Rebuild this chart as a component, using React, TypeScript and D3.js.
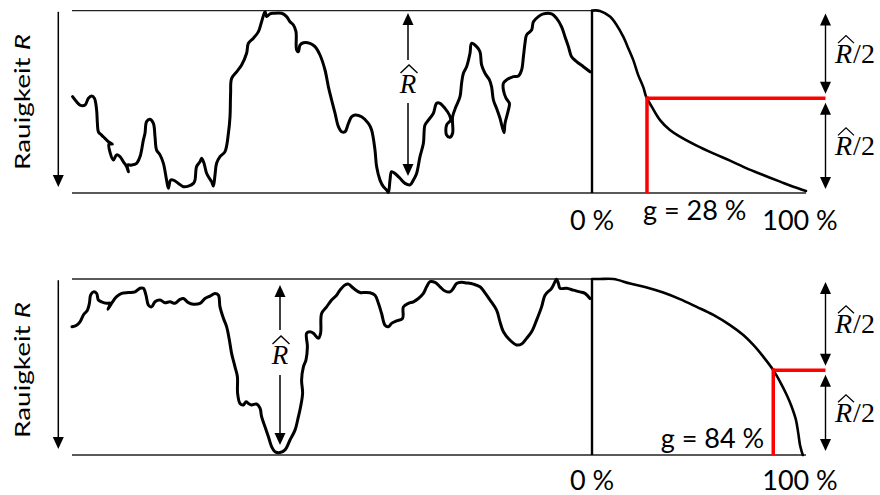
import React from 'react';
import * as d3 from 'd3';

// ---- data (profile position in µm, height in µm; Abbott curve: material ratio %, height) ----
const profileTop: [number, number][] = [
  [0.3,32.1],[2.3,30.4],[4,29.3],[6.5,29.3],[8.2,31.6],[9.8,32.3],[11.2,31.6],[12.3,27.7],[12.7,23.2],[13.2,20.4],[14.8,19.3],[16.5,18.2],[18.2,17.1],[20.2,16.3],[18.5,16.3],[20.7,11],[22.3,12.7],[24,12.1],[25.7,10.4],[27.3,8.8],[28.2,7.1],[27.7,9.3],[29.8,9.3],[32.3,9.9],[34,12.1],[35.7,17.7],[36.5,19.9],[37.3,23.8],[39,24.6],[40.7,23.2],[41.5,18.8],[42.3,14.3],[44,12.7],[45.7,9.9],[47.3,4.3],[48.2,1.6],[49.3,4.3],[50.7,4.3],[53.2,3.2],[55.7,2.1],[58.2,2.3],[60.7,3.2],[61.5,4.3],[62.3,8.8],[64,10.4],[64.8,11.6],[66,9.9],[67.3,6.6],[68.7,4.9],[69.8,3.8],[70.7,2.3],[71.5,6],[72.3,9.9],[74,12.1],[76.5,13.8],[78.2,19.9],[79,25.4],[79.3,33.2],[79.8,38.2],[82.3,40.4],[84.8,42.7],[87.3,46.6],[88.2,49.9],[90.7,51.6],[93.2,53.8],[94.8,57.1],[96.5,60.4],[97.3,58.8],[99,59.7],[100.7,59.9],[104.8,59.9],[107.3,58.8],[109,57.1],[110.7,56],[112,53.8],[112.3,47.7],[113.2,47.1],[114,49.3],[115.7,50.1],[119,49.9],[121.5,48.8],[124,46],[126.5,41],[128.2,35.4],[129.8,31],[131.5,26.6],[133.2,22.1],[134.8,20.4],[136.5,20.4],[138.2,23.2],[139.8,25.4],[141.5,26],[144.8,25.4],[148.2,23.2],[149.8,21],[151.5,14.3],[152.3,8.8],[154,4.3],[155.7,2.1],[157.3,1],[158.2,0.2],[159,4.3],[159.8,7.1],[161.5,6.5],[164,4.9],[166.5,3.2],[169,2.7],[170.7,4.3],[172.3,6.5],[174,12.1],[175.7,16.6],[176.5,22.7],[178.2,24.3],[180.7,26.6],[182.3,29.9],[184,29.9],[186.5,28.2],[188.7,26],[189.3,24.3],[187.3,22.7],[187.3,19.3],[189,18.6],[190.3,19.9],[190.3,25.4],[192,28.8],[194,32.1],[194.8,36.6],[195.7,39.9],[197.3,42.1],[199,46.6],[199.8,49.9],[202.3,48.8],[204,47.1],[204.8,42.7],[206.5,39.9],[208.7,37.7],[209.8,35.4],[210.7,31],[212.3,28.2],[214,24.9],[216,20.1],[216.5,23.2],[218.2,27.7],[218.7,29.9],[217,31.6],[215.7,34.3],[215.7,36.6],[217.3,37.7],[220.7,38.8],[223.2,39],[224.8,41],[225.7,45.4],[226.5,49.9],[227.3,52.7],[229.8,54.3],[230.7,57.1],[233.2,58.8],[235.7,59.7],[239.8,59.7],[242.3,58.2],[244.8,55.4],[246.5,52.1],[248.2,48.8],[249.8,45.4],[252.3,43.8],[255.7,42.1],[259,40.4]
];

const profileBottom: [number, number][] = [
  [0,42.8],[2.3,43.3],[4,44.4],[5.7,46.7],[7.7,48.3],[8.7,50.6],[9.3,53.3],[10.7,54.4],[12.3,53.9],[13.2,51.7],[14.8,51.1],[17.3,50.6],[19,50.6],[18,48.6],[20,50.8],[22.3,52.8],[24.8,53.9],[28.2,54.2],[31.5,54.4],[34,55.6],[35.7,55.6],[37,53.3],[38.2,50],[39.8,49.4],[41.5,51.1],[44,51.7],[46.5,50.8],[49,51.1],[51.5,50.6],[54,51.9],[55.7,52.2],[58.2,50.8],[60.7,50.3],[64,50.6],[66.5,52.2],[69,53],[71.5,53.9],[73.2,53.3],[74,49.4],[75.7,45.6],[77.3,42.8],[78.7,38.3],[79.8,33.9],[81.5,29.4],[82.7,26.1],[82.8,20.6],[84,17.2],[85.7,16.7],[87,17.8],[88.2,17.2],[89.8,16.7],[92.3,17],[94,15.6],[94.8,12.8],[96.5,9.4],[98.2,6.1],[99.8,2.8],[101.5,1.1],[104,0.8],[106.5,1.7],[109,5],[111.5,8.3],[113.2,12.8],[114.3,16.1],[115.3,20.6],[114.8,25],[115.7,29.4],[117,31.7],[117.7,36.1],[117.3,40.6],[119,41.1],[120.7,40.6],[123.2,38.9],[124.3,40.6],[124.8,47.2],[127.3,49.4],[129.8,51.7],[132.3,53.3],[134,55],[136.5,56.7],[138.2,57],[140.7,55.6],[144,54.2],[146.5,54.2],[149,54.1],[151.5,53.3],[153.2,50.6],[154.8,47.2],[156.5,43.3],[158.2,42.8],[159.8,43.9],[162.3,44.7],[165.3,45.6],[165.7,49.4],[168.2,50.6],[170.7,51.1],[173.2,52.2],[175.7,53.9],[177.3,56.1],[179,57.8],[181.5,57.6],[184,56.1],[186.5,54.7],[189,54.4],[190.7,55.6],[192.3,57.2],[194.8,57.6],[197.3,57.4],[200.7,57],[204,56.1],[206.5,54.1],[209,51.7],[212.3,48.3],[214,44.4],[215.7,41.1],[219,38.3],[222.3,36.7],[224.8,37],[227.3,38.9],[229.8,41.1],[232.3,45],[234.8,49.4],[236.5,53.3],[239.8,55.6],[241.5,57.8],[242.3,58.6],[243.2,57.2],[244,55.6],[247.3,55.6],[250.7,55],[254,54.4],[256.5,53.9],[259,52.2]
];

const abbottTop: [number, number][] = [
  [0,60.8],[3.7,60.7],[8.4,58.8],[11.5,56],[14.6,52.1],[17,48.2],[19.3,44.3],[21.6,39.3],[24,35.2],[25.3,32.1],[27.9,28.8],[31.8,24.3],[36.4,21],[41.1,18.8],[48.9,15.8],[56.7,13.2],[64.5,10.8],[72.3,8.2],[80,6],[87.9,3.8],[94.1,2.1],[100,0.7]
];

const abbottBottom: [number, number][] = [
  [0,58.7],[3.7,58.7],[10,58.7],[17.8,57.2],[25.6,55.9],[33.3,54.2],[41.1,52],[48.9,49.4],[56.7,46.7],[64.5,43.3],[70.7,40],[75.4,36.7],[80,32.8],[84.7,28.3],[87.9,24.4],[91,20],[93.3,16.1],[95.3,11.7],[96.4,7.2],[97.2,3.3],[98,1.1],[98.5,0]
];

const peakHeights = [60.8, 58.7];
const halfLevels = [31.6, 28.3];
const gLabels = ['g = 28 %', 'g = 84 %'];
const pctLabels = ['0 %', '100 %'];
const yAxisLabel = 'Rauigkeit';
const rhatArrowPos = [168, 104];

// ---- layout ----
const W = 880, H = 495;
const xProf = d3.scaleLinear().domain([0, 260]).range([72, 592]);
const xAbb = d3.scaleLinear().domain([0, 100]).range([592, 806]);

const panels = [
  { profile: profileTop, abbott: abbottTop, top: 10.6, bottom: 193, labelY: 102, pctBase: 230, gBase: 220, gAnchor: 'start', gDx: -4,
    rTip1: 13, rTip2: 176, rGap1: 60, rGap2: 103, rBase: 93 },
  { profile: profileBottom, abbott: abbottBottom, top: 279, bottom: 455, labelY: 370, pctBase: 490, gBase: 448, gAnchor: 'end', gDx: -9,
    rTip1: 285, rTip2: 445, rGap1: 330, rGap2: 375, rBase: 364 },
];

const SANS = "Lato, 'Open Sans', 'Noto Sans', sans-serif";
const SERIF = "'Liberation Serif', 'DejaVu Serif', serif";

function crossing(curve: [number, number][], level: number): number {
  for (let i = 0; i < curve.length - 1; i++) {
    const [p0, h0] = curve[i];
    const [p1, h1] = curve[i + 1];
    if (h0 >= level && h1 <= level) {
      const t = (h0 - level) / (h0 - h1 || 1);
      return p0 + t * (p1 - p0);
    }
  }
  return 50;
}

const HL = 12, HW = 5.5;
function Arrow({ x, y1, y2, up = false, down = false, sw = 1.5 }: any) {
  return (
    <g>
      <line x1={x} y1={up ? y1 + HL - 1 : y1} x2={x} y2={down ? y2 - HL + 1 : y2} stroke="#000" strokeWidth={sw} />
      {up && <polygon points={`${x},${y1} ${x - HW},${y1 + HL} ${x + HW},${y1 + HL}`} fill="#000" />}
      {down && <polygon points={`${x},${y2} ${x - HW},${y2 - HL} ${x + HW},${y2 - HL}`} fill="#000" />}
    </g>
  );
}

function Hat({ cx, y, w, d }: any) {
  return <path d={`M${cx - w / 2},${y + d} L${cx},${y} L${cx + w / 2},${y + d}`} fill="none" stroke="#000" strokeWidth={1.3} strokeLinejoin="miter" />;
}

function Panel({ cfg, i }: any) {
  const y = d3.scaleLinear().domain([0, peakHeights[i]]).range([cfg.bottom, cfg.top]);
  const profLine = d3.line<[number, number]>().x(d => xProf(d[0])).y(d => y(d[1])).curve(d3.curveCatmullRom.alpha(0.5));
  const abbLine = d3.line<[number, number]>().x(d => xAbb(d[0])).y(d => y(d[1])).curve(d3.curveCatmullRom.alpha(0.5));
  const mid = halfLevels[i];
  const gp = crossing(cfg.abbott, mid);
  const gx = xAbb(gp);
  const ym = y(mid);
  const arrowX = 825.5;
  const rx = xProf(rhatArrowPos[i]);
  const upperMid = (cfg.top + 3 + ym - 4.5) / 2;
  const lowerMid = (ym + 4.5 + cfg.bottom - 4) / 2;
  return (
    <g>
      {/* reference lines */}
      <line x1={xProf(0)} x2={xProf(260)} y1={y(peakHeights[i])} y2={y(peakHeights[i])} stroke="#222" strokeWidth={1.4} />
      <line x1={xProf(0)} x2={xAbb(100)} y1={y(0)} y2={y(0)} stroke="#222" strokeWidth={1.4} />
      <line x1={xAbb(0)} x2={xAbb(0)} y1={y(peakHeights[i])} y2={y(0)} stroke="#000" strokeWidth={2.4} />
      {/* profile */}
      <path d={profLine(cfg.profile) || ''} fill="none" stroke="#000" strokeWidth={3} strokeLinejoin="round" strokeLinecap="round" />
      {/* abbott */}
      <path d={abbLine(cfg.abbott) || ''} fill="none" stroke="#000" strokeWidth={2.6} strokeLinecap="round" />
      {/* red markers */}
      <line x1={gx} x2={arrowX} y1={ym} y2={ym} stroke="#ff0000" strokeWidth={3.5} />
      <line x1={gx} x2={gx} y1={ym - 1.75} y2={y(0)} stroke="#ff0000" strokeWidth={3.5} />
      {/* left arrow */}
      <Arrow x={58.3} y1={cfg.top + 1.2} y2={cfg.bottom - 6} down />
      <text transform={`translate(30,${cfg.labelY}) rotate(-90)`} textAnchor="middle" fontFamily={SANS} fontSize={21}
        textLength={136} lengthAdjust="spacingAndGlyphs">
        {yAxisLabel} <tspan fontStyle="italic">R</tspan>
      </text>
      {/* R-hat arrow */}
      <Arrow x={rx} y1={cfg.rTip1} y2={cfg.rGap1} up />
      <Arrow x={rx} y1={cfg.rGap2} y2={cfg.rTip2} down />
      <text x={rx} y={cfg.rBase} textAnchor="middle" fontFamily={SERIF} fontStyle="italic" fontSize={27}>R</text>
      <Hat cx={rx + 1} y={cfg.rBase - 28} w={17} d={8} />
      {/* right half arrows */}
      <Arrow x={arrowX} y1={cfg.top + 3} y2={ym - 4.5} up down sw={1.4} />
      <Arrow x={arrowX} y1={ym + 4.5} y2={cfg.bottom - 4} up down sw={1.4} />
      {[upperMid, lowerMid].map((m, k) => (
        <g key={k}>
          <text x={835} y={m + 9} fontFamily={SERIF} fontSize={28}>
            <tspan fontStyle="italic">R</tspan><tspan dx={1}>/2</tspan>
          </text>
          <Hat cx={846} y={m + 9 - 27} w={16} d={7.5} />
        </g>
      ))}
      {/* percent labels */}
      <text x={xAbb(0)} y={cfg.pctBase} textAnchor="middle" fontFamily={SANS} fontSize={27}>{pctLabels[0]}</text>
      <text x={xAbb(100) - 6} y={cfg.pctBase} textAnchor="middle" fontFamily={SANS} fontSize={27}>{pctLabels[1]}</text>
      <text x={gx + cfg.gDx} y={cfg.gBase} textAnchor={cfg.gAnchor} fontFamily={SANS} fontSize={27}>{gLabels[i]}</text>
    </g>
  );
}

export default function App() {
  return (
    <svg width={W} height={H} viewBox={`0 0 ${W} ${H}`} style={{ position: 'absolute', left: 0, top: 0, background: '#fff' }}>
      <rect x={0} y={0} width={W} height={H} fill="#fff" />
      {panels.map((p, i) => <Panel key={i} cfg={p} i={i} />)}
    </svg>
  );
}
